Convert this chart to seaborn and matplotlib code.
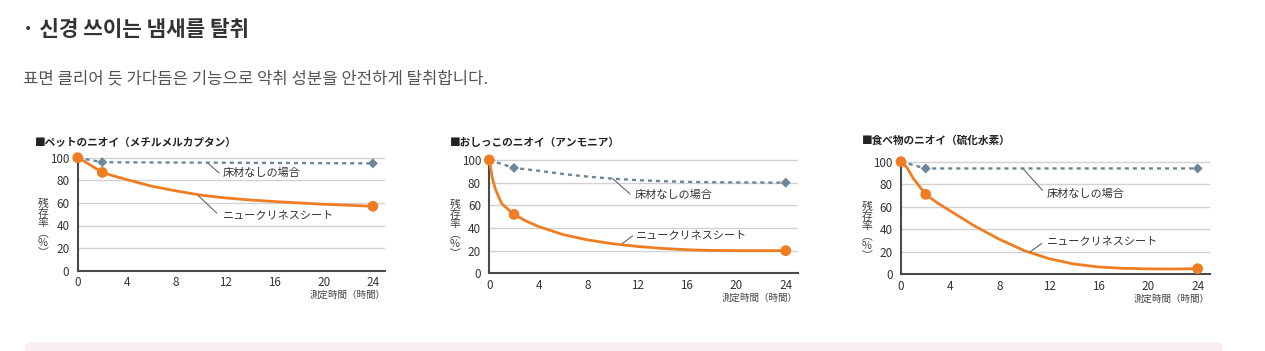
import matplotlib
matplotlib.use("Agg")
import matplotlib.pyplot as plt
from matplotlib.patches import FancyBboxPatch
import seaborn as sns
import pandas as pd

sns.set_theme(style="white")
plt.rcParams['font.family'] = ['Noto Sans CJK JP', 'DejaVu Sans']

# ---------------- data ----------------
titles = ["■ペットのニオイ（メチルメルカプタン）",
          "■おしっこのニオイ（アンモニア）",
          "■食べ物のニオイ（硫化水素）"]
series_sheet = "ニュークリネスシート"
series_none = "床材なしの場合"

marker_hours = [0, 2, 24]
pet_sheet = [100, 87, 57]
pet_none = [100, 96, 95]
urine_sheet = [100, 52, 20]
urine_none = [100, 93, 80]
food_sheet = [100, 71, 5]
food_none = [100, 94, 94]

# curve shapes
curve_hours = [0, 0.25, 0.5, 1, 2, 3, 4, 6, 8, 10, 12, 14, 16, 18, 20, 22, 24]
pet_sheet_curve = [100, 98.5, 97, 93.7, 87, 83.6, 80.6, 74.8, 70.6, 66.9, 64.4, 62.6, 61.2, 60, 58.8, 57.9, 57]
urine_sheet_curve = [100, 84, 74, 61.5, 52, 46, 41.2, 34.1, 29.4, 26.1, 23.7, 22, 20.8, 20.2, 20, 20, 20]
food_sheet_curve = [100, 97.5, 94.5, 85, 71, 63, 56.2, 42.6, 30.9, 20.9, 13.8, 9.1, 6.5, 5.3, 4.8, 4.7, 5]

none_hours_pet = [0, 2, 24]
pet_none_curve = [100, 96, 95]
none_hours_urine = [0, 2, 4, 6, 8, 10, 12, 14, 16, 18, 20, 22, 24]
urine_none_curve = [100, 93, 90.5, 87.6, 85.3, 83.5, 82.2, 81.3, 80.7, 80.4, 80.2, 80.1, 80]
none_hours_food = [0, 2, 24]
food_none_curve = [100, 94, 94]

x_ticks = [0, 4, 8, 12, 16, 20, 24]
y_ticks = [0, 20, 40, 60, 80, 100]
x_label = "測定時間（時間）"
y_label = "残\n存\n率\n︵\n%\n︶"

header = "· 신경 쓰이는 냄새를 탈취"
subheader = "표면 클리어 듯 가다듬은 기능으로 악취 성분을 안전하게 탈취합니다."

# ---------------- layout ----------------
W, H = 1265, 351
fig = plt.figure(figsize=(W / 100, H / 100), dpi=100)
fig.patch.set_facecolor("white")

ORANGE = "#ef7d22"
GREY = "#6c8798"
GRID = "#d2d2d2"
SPINE = "#4a4a4a"
TXT = "#333333"

charts = [
    dict(pos=(77.7, 270.7, 12.3, 1.13), sheet=pet_sheet, none=pet_none,
         sc=pet_sheet_curve, nh=none_hours_pet, nc=pet_none_curve,
         title_xy=(35, 142.5), ylab_xy=(43, 228),
         ann_none=((10.6, 95), (11.5, 86.5), (11.8, 86.5)),
         ann_sheet=((9.8, 66.5), (11.3, 51), (11.8, 49.5))),
    dict(pos=(489.3, 273.3, 12.35, 1.133), sheet=urine_sheet, none=urine_none,
         sc=urine_sheet_curve, nh=none_hours_urine, nc=urine_none_curve,
         title_xy=(450, 142.5), ylab_xy=(455, 229),
         ann_none=((10.0, 83.5), (11.4, 70), (11.8, 69.5)),
         ann_sheet=((10.8, 26.5), (11.6, 33), (11.9, 33.5))),
    dict(pos=(901, 274.3, 12.36, 1.126), sheet=food_sheet, none=food_none,
         sc=food_sheet_curve, nh=none_hours_food, nc=food_none_curve,
         title_xy=(861.5, 140.5), ylab_xy=(867, 231),
         ann_none=((9.9, 93.5), (11.45, 74.5), (11.8, 71)),
         ann_sheet=((10.4, 19.5), (11.4, 27.5), (11.8, 29.5))),
]

XMAX, YMAX = 25.0, 104.0

for i, c in enumerate(charts):
    x0, y0, sx, sy = c["pos"]
    left = x0 / W
    bottom = (H - y0) / H
    width = XMAX * sx / W
    height = YMAX * sy / H
    ax = fig.add_axes([left, bottom, width, height])
    ax.set_xlim(0, XMAX)
    ax.set_ylim(0, YMAX)

    for yv in y_ticks[1:]:
        ax.axhline(yv, color=GRID, lw=1.0, zorder=0)

    sns.lineplot(x=c["nh"], y=c["nc"], ax=ax, color=GREY, lw=1.7,
                 linestyle=(0, (1.7, 1.7)), zorder=2, sort=True)
    sns.scatterplot(x=marker_hours, y=c["none"], ax=ax, color=GREY, marker="D",
                    s=26, edgecolor="none", zorder=3, clip_on=False)
    sns.lineplot(x=curve_hours, y=c["sc"], ax=ax, color=ORANGE, lw=2.0,
                 zorder=4, sort=True)
    sns.scatterplot(x=marker_hours, y=c["sheet"], ax=ax, color=ORANGE, marker="o",
                    s=60, edgecolor="none", zorder=5, clip_on=False)

    for s in ["top", "right"]:
        ax.spines[s].set_visible(False)
    for s in ["left", "bottom"]:
        ax.spines[s].set_color(SPINE)
        ax.spines[s].set_linewidth(1.5)
    ax.spines["left"].set_bounds(0, 100)

    ax.set_xticks(x_ticks)
    ax.set_yticks(y_ticks)
    ax.set_xticklabels([str(v) for v in x_ticks], fontsize=8.4, color=TXT)
    ax.set_yticklabels([str(v) for v in y_ticks], fontsize=8.4, color=TXT)
    ax.tick_params(axis="x", direction="in", length=3, width=0.8, color=SPINE, pad=4)
    ax.tick_params(axis="y", length=0, pad=6)
    ax.set_xlabel("")
    ax.set_ylabel("")
    ax.grid(False)

    ax.text(1.0, -0.17, x_label, transform=ax.transAxes, ha="right", va="top",
            fontsize=6.8, color="#444444")

    # annotations with leader lines
    for (p1, p2, tp), label in [(c["ann_none"], series_none), (c["ann_sheet"], series_sheet)]:
        ax.plot([p1[0], p2[0]], [p1[1], p2[1]], color="#666666", lw=0.8, zorder=6)
        ax.text(tp[0], tp[1], label, ha="left", va="center", fontsize=8, color=TXT, zorder=6)

    tx, ty = c["title_xy"]
    fig.text(tx / W, 1 - ty / H, titles[i], ha="left", va="center", fontsize=7.7,
             fontweight="bold", color="#222222")
    lx, ly = c["ylab_xy"]
    fig.text(lx / W, 1 - ly / H, y_label, ha="center", va="center", fontsize=7.8,
             color="#444444", linespacing=0.95)

# header texts
fig.text(22 / W, 1 - 29 / H, header, ha="left", va="center", fontsize=15.3,
         fontweight="bold", color="#333333", family=["Noto Sans CJK KR", "DejaVu Sans"])
fig.text(23 / W, 1 - 79 / H, subheader, ha="left", va="center", fontsize=12,
         color="#555555", family=["Noto Sans CJK KR", "DejaVu Sans"])

# pink box at bottom
box = FancyBboxPatch((25 / W, -0.05), (1222 - 25) / W, (0.05 + 9 / H),
                     boxstyle="round,pad=0,rounding_size=0.008",
                     transform=fig.transFigure, facecolor="#f9eef1",
                     edgecolor="none", zorder=0)
fig.patches.append(box)

fig.savefig("out.png", dpi=100, facecolor="white")
